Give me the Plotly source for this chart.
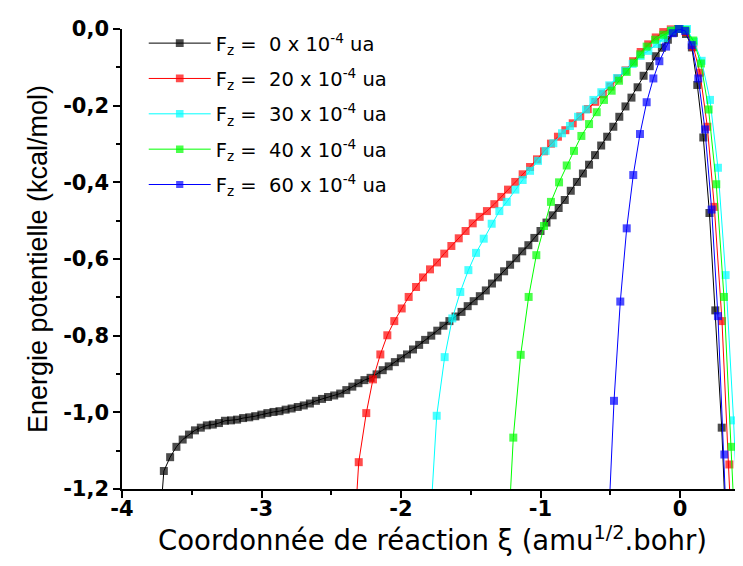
import plotly.graph_objects as go

# ---- data ----
black_x = [-3.745, -3.700, -3.655, -3.610, -3.565, -3.520, -3.477, -3.435, -3.392, -3.349,
           -3.305, -3.262, -3.219, -3.175, -3.132, -3.088, -3.045, -3.001, -2.958, -2.914,
           -2.871, -2.827, -2.784, -2.740, -2.697, -2.653, -2.610, -2.566, -2.523, -2.479,
           -2.436, -2.392, -2.349, -2.305, -2.262, -2.218, -2.175, -2.131, -2.088, -2.044,
           -2.001, -1.957, -1.914, -1.870, -1.827, -1.783, -1.740, -1.696, -1.653, -1.609,
           -1.566, -1.522, -1.479, -1.435, -1.392, -1.348, -1.305, -1.261, -1.218, -1.174,
           -1.131, -1.087, -1.044, -1.000, -0.957, -0.913, -0.870, -0.826, -0.783, -0.739,
           -0.696, -0.652, -0.609, -0.565, -0.522, -0.478, -0.435, -0.391, -0.348, -0.304,
           -0.261, -0.217, -0.174, -0.130, -0.087, -0.043, 0.000, 0.043, 0.085, 0.124,
           0.167, 0.211, 0.253, 0.299, 0.342]
black_y = [-1.37, -1.153, -1.117, -1.090, -1.071, -1.058, -1.047, -1.040, -1.034, -1.032,
           -1.028, -1.022, -1.021, -1.019, -1.015, -1.013, -1.010, -1.006, -1.002, -0.999,
           -0.997, -0.993, -0.990, -0.986, -0.982, -0.977, -0.970, -0.965, -0.960, -0.956,
           -0.951, -0.942, -0.933, -0.924, -0.916, -0.910, -0.901, -0.890, -0.880, -0.869,
           -0.859, -0.849, -0.836, -0.824, -0.811, -0.800, -0.787, -0.774, -0.762, -0.750,
           -0.738, -0.723, -0.710, -0.697, -0.682, -0.664, -0.648, -0.632, -0.615, -0.598,
           -0.580, -0.564, -0.545, -0.527, -0.505, -0.486, -0.467, -0.446, -0.422, -0.399,
           -0.377, -0.354, -0.329, -0.304, -0.281, -0.255, -0.229, -0.202, -0.179, -0.152,
           -0.122, -0.097, -0.071, -0.049, -0.028, -0.010, 0.000, -0.013, -0.048, -0.146,
           -0.283, -0.480, -0.734, -1.040, -1.42]

red_x = [-2.355, -2.303, -2.249, -2.201, -2.148, -2.098, -2.048, -1.995, -1.945, -1.892,
         -1.842, -1.792, -1.742, -1.690, -1.639, -1.586, -1.537, -1.486, -1.436, -1.384,
         -1.331, -1.281, -1.233, -1.181, -1.128, -1.075, -1.025, -0.975, -0.925, -0.875,
         -0.822, -0.769, -0.715, -0.661, -0.607, -0.553, -0.499, -0.445, -0.390, -0.336,
         -0.282, -0.228, -0.174, -0.120, -0.066, -0.012, 0.042, 0.095, 0.143, 0.196,
         0.246, 0.301, 0.354, 0.405]
red_y = [-1.44, -1.130, -1.002, -0.914, -0.849, -0.799, -0.762, -0.729, -0.699, -0.673,
         -0.648, -0.627, -0.609, -0.586, -0.566, -0.546, -0.527, -0.507, -0.490, -0.475,
         -0.457, -0.438, -0.419, -0.399, -0.379, -0.360, -0.340, -0.319, -0.299, -0.281,
         -0.264, -0.246, -0.228, -0.209, -0.190, -0.170, -0.150, -0.129, -0.108, -0.084,
         -0.060, -0.040, -0.022, -0.008, -0.001, 0.000, -0.008, -0.046, -0.114, -0.255,
         -0.464, -0.762, -1.136, -1.60]

cyan_x = [-1.800, -1.744, -1.687, -1.632, -1.575, -1.517, -1.462, -1.407, -1.350, -1.295,
          -1.242, -1.180, -1.128, -1.075, -1.018, -0.963, -0.908, -0.846, -0.789, -0.731,
          -0.674, -0.621, -0.564, -0.507, -0.452, -0.394, -0.339, -0.282, -0.227, -0.167,
          -0.115, -0.060, -0.005, 0.050, 0.100, 0.155, 0.215, 0.272, 0.327, 0.384, 0.440]
cyan_y = [-1.35, -1.009, -0.856, -0.755, -0.686, -0.629, -0.584, -0.547, -0.508, -0.475,
          -0.451, -0.419, -0.394, -0.370, -0.344, -0.318, -0.298, -0.272, -0.253, -0.229,
          -0.210, -0.185, -0.165, -0.147, -0.128, -0.109, -0.091, -0.070, -0.057, -0.039,
          -0.024, -0.004, 0.000, 0.000, -0.033, -0.083, -0.185, -0.362, -0.642, -1.021, -1.50]

green_x = [-1.250, -1.195, -1.142, -1.085, -1.030, -0.975, -0.925, -0.867, -0.812, -0.760,
           -0.707, -0.652, -0.597, -0.545, -0.490, -0.437, -0.382, -0.330, -0.285, -0.239,
           -0.179, -0.120, -0.065, -0.015, 0.040, 0.095, 0.150, 0.205, 0.260, 0.315,
           0.370, 0.425]
green_y = [-1.45, -1.066, -0.850, -0.699, -0.590, -0.514, -0.451, -0.400, -0.356, -0.318,
           -0.279, -0.248, -0.217, -0.185, -0.161, -0.135, -0.112, -0.088, -0.066, -0.046,
           -0.028, -0.015, -0.005, 0.000, -0.003, -0.030, -0.090, -0.210, -0.405, -0.699,
           -1.090, -1.55]

blue_x = [-0.520, -0.473, -0.428, -0.382, -0.335, -0.287, -0.239, -0.191, -0.148, -0.100,
          -0.052, -0.008, 0.037, 0.084, 0.131, 0.179, 0.227, 0.272, 0.318, 0.362]
blue_y = [-1.35, -0.970, -0.711, -0.520, -0.381, -0.274, -0.191, -0.129, -0.084, -0.046,
          -0.011, 0.000, -0.005, -0.042, -0.129, -0.262, -0.471, -0.749, -1.110, -1.55]

series_names = ["F<sub>z</sub> =  0 x 10<sup>-4</sup> ua",
                "F<sub>z</sub> =  20 x 10<sup>-4</sup> ua",
                "F<sub>z</sub> =  30 x 10<sup>-4</sup> ua",
                "F<sub>z</sub> =  40 x 10<sup>-4</sup> ua",
                "F<sub>z</sub> =  60 x 10<sup>-4</sup> ua"]
series_colors = ["#000000", "#FF0000", "#00FFFF", "#00FF00", "#0000FF"]

x_tick_vals = [-4, -3, -2, -1, 0]
x_tick_labels = ["-4", "-3", "-2", "-1", "0"]
y_tick_vals = [0.0, -0.2, -0.4, -0.6, -0.8, -1.0, -1.2]
y_tick_labels = ["0,0", "-0,2", "-0,4", "-0,6", "-0,8", "-1,0", "-1,2"]

Y_MIN, Y_MAX = -1.2, 0.0
X_MIN, X_MAX = -4.0, 0.4516

WIDE = "DejaVu Sans, Verdana, sans-serif"
ARIAL = "Arial, Liberation Sans, Helvetica, sans-serif"

fig = go.Figure()
all_x = [black_x, red_x, cyan_x, green_x, blue_x]
all_y = [black_y, red_y, cyan_y, green_y, blue_y]
for i, (xs, ys, name, col) in enumerate(zip(all_x, all_y, series_names, series_colors)):
    sizes = [8 if (y >= Y_MIN - 0.005) else 0 for y in ys]
    fig.add_trace(go.Scatter(
        x=xs, y=ys, name=name, mode="lines+markers", legendgroup="g%d" % i,
        line=dict(color=col, width=1),
        marker=dict(symbol="square", size=sizes, color=col, line=dict(width=0)),
        cliponaxis=False,
    ))

fig.update_layout(
    width=735, height=558,
    margin=dict(l=114, r=0, t=21, b=77, autoexpand=False),
    paper_bgcolor="white", plot_bgcolor="white",
    font=dict(family=ARIAL, color="black"),
    showlegend=True,
    legend=dict(x=0.035, y=1.011, xanchor="left", yanchor="top",
                bgcolor="rgba(0,0,0,0)", borderwidth=0,
                font=dict(family=WIDE, size=19.5, color="black"),
                itemwidth=62, tracegroupgap=7),
)
fig.update_xaxes(
    range=[X_MIN, X_MAX], showgrid=False, zeroline=False, automargin=False,
    showline=True, linecolor="black", linewidth=1.5, mirror=False,
    ticks="outside", ticklen=7, tickwidth=1.5, tickcolor="black",
    ticklabelstandoff=-7,
    tickmode="array", tickvals=x_tick_vals,
    ticktext=["<b>%s</b>" % t for t in x_tick_labels],
    tickfont=dict(family=WIDE, size=21, color="black"),
    minor=dict(ticks="outside", ticklen=4, tickwidth=1.5, tickcolor="black",
               tickmode="linear", tick0=-4, dtick=0.5, showgrid=False),
    title=dict(text="Coordonnée de réaction ξ (amu<sup>1/2</sup>.bohr)",
               font=dict(family=WIDE, size=27.5, color="black"), standoff=4),
)
fig.update_yaxes(
    range=[Y_MIN, Y_MAX], showgrid=False, zeroline=False, automargin=False,
    showline=True, linecolor="black", linewidth=1.5, mirror=False,
    ticks="outside", ticklen=7, tickwidth=1.5, tickcolor="black",
    tickmode="array", tickvals=y_tick_vals,
    ticktext=["<b>%s</b>" % t for t in y_tick_labels],
    tickfont=dict(family=WIDE, size=21, color="black"),
    minor=dict(ticks="outside", ticklen=4, tickwidth=1.5, tickcolor="black",
               tickmode="linear", tick0=0, dtick=0.1, showgrid=False),
    title=dict(text="Energie potentielle (kcal/mol)",
               font=dict(family=ARIAL, size=27, color="black"), standoff=8),
)

fig.write_html("out.html")
